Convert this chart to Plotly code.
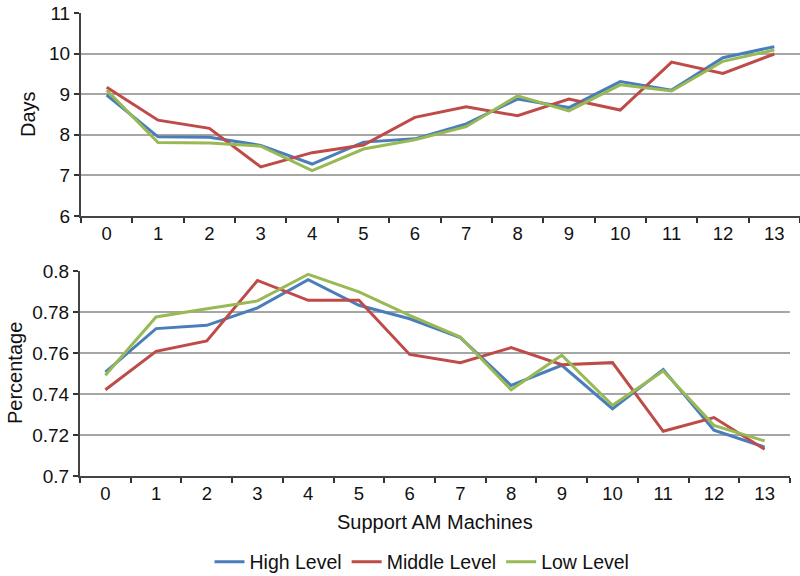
import plotly.graph_objects as go

machines = [str(i) for i in range(14)]
series_names = ["High Level", "Middle Level", "Low Level"]
colors = ["#4a7ebb", "#be4b48", "#98b954"]

days_high = [8.98, 7.95, 7.94, 7.74, 7.28, 7.82, 7.90, 8.27, 8.88, 8.67, 9.31, 9.10, 9.90, 10.17]
days_middle = [9.17, 8.36, 8.16, 7.21, 7.56, 7.75, 8.43, 8.69, 8.47, 8.88, 8.61, 9.79, 9.51, 9.99]
days_low = [9.10, 7.81, 7.80, 7.72, 7.12, 7.65, 7.88, 8.20, 8.96, 8.59, 9.23, 9.08, 9.81, 10.09]

pct_high = [0.7507, 0.7719, 0.7735, 0.7820, 0.7958, 0.7833, 0.7767, 0.7675, 0.7442, 0.7540, 0.7328, 0.7519, 0.7223, 0.7141]
pct_middle = [0.7421, 0.7608, 0.7659, 0.7954, 0.7857, 0.7857, 0.7593, 0.7553, 0.7626, 0.7543, 0.7553, 0.7218, 0.7285, 0.7130]
pct_low = [0.7491, 0.7776, 0.7816, 0.7854, 0.7984, 0.7898, 0.7784, 0.7678, 0.7421, 0.7589, 0.7345, 0.7512, 0.7247, 0.7171]

days_ticks = [6, 7, 8, 9, 10, 11]
pct_ticks = [0.70, 0.72, 0.74, 0.76, 0.78, 0.80]
pct_labels = ["0.7", "0.72", "0.74", "0.76", "0.78", "0.8"]

W, H = 800, 576
FONT = "Liberation Sans, Arial, sans-serif"

fig = go.Figure()
for name, col, vals in zip(series_names, colors, [days_high, days_middle, days_low]):
    fig.add_trace(go.Scatter(x=machines, y=vals, mode="lines", name=name,
                             line=dict(color=col, width=3), xaxis="x", yaxis="y",
                             showlegend=False))
for name, col, vals in zip(series_names, colors, [pct_high, pct_middle, pct_low]):
    fig.add_trace(go.Scatter(x=machines, y=vals, mode="lines", name=name,
                             line=dict(color=col, width=3), xaxis="x2", yaxis="y2",
                             showlegend=True))

def px_x(p):
    return min(p / W, 1.0)

def px_y(p):
    return 1 - p / H

xcommon = dict(type="category", tickson="boundaries", ticks="outside", ticklen=5,
               tickwidth=2, tickcolor="#333", showline=True, linecolor="#444",
               linewidth=2, showgrid=False, zeroline=False, automargin=False,
               ticklabeloverflow="allow",
               tickfont=dict(size=18.5, color="#111", family=FONT), range=[-0.5, 13.5])
ycommon = dict(ticks="outside", ticklen=5, tickwidth=1.5, tickcolor="#333",
               showline=True, linecolor="#444", linewidth=2, showgrid=True,
               gridcolor="#a6a6a6", gridwidth=1.5, zeroline=False, automargin=False,
               ticklabeloverflow="allow",
               tickfont=dict(size=19, color="#111", family=FONT))

fig.update_layout(
    width=W, height=H,
    margin=dict(l=0, r=0, t=0, b=0, autoexpand=False),
    paper_bgcolor="white", plot_bgcolor="white",
    font=dict(family=FONT, color="#111"),
    xaxis=dict(domain=[px_x(81), px_x(801)], anchor="y", **xcommon),
    yaxis=dict(domain=[px_y(216), px_y(13)], anchor="x", range=[6, 11],
               tickvals=days_ticks, **ycommon),
    xaxis2=dict(domain=[px_x(80), px_x(790)], anchor="y2", **xcommon),
    yaxis2=dict(domain=[px_y(476), px_y(271)], anchor="x2", range=[0.70, 0.80],
                tickvals=pct_ticks, ticktext=pct_labels, **ycommon),
    legend=dict(orientation="h", x=px_x(422), xanchor="center", y=px_y(562), yanchor="middle",
                font=dict(size=19.5, family=FONT, color="#111"),
                tracegroupgap=0),
    annotations=[
        dict(text="Days", x=px_x(28), y=px_y(114), xref="paper", yref="paper",
             xanchor="center", yanchor="middle",
             textangle=-90, showarrow=False, font=dict(size=20, family=FONT)),
        dict(text="Percentage", x=px_x(15), y=px_y(373), xref="paper", yref="paper",
             xanchor="center", yanchor="middle",
             textangle=-90, showarrow=False, font=dict(size=20, family=FONT)),
        dict(text="Support AM Machines", x=px_x(435), y=px_y(522), xref="paper", yref="paper",
             xanchor="center", yanchor="middle",
             showarrow=False, font=dict(size=20, family=FONT)),
    ],
)

# remove the default 8px page margin so the 800x576 figure fills the window exactly
fig.write_html("out.html", config={"displayModeBar": False},
               post_script="document.body.style.margin='0px';")
